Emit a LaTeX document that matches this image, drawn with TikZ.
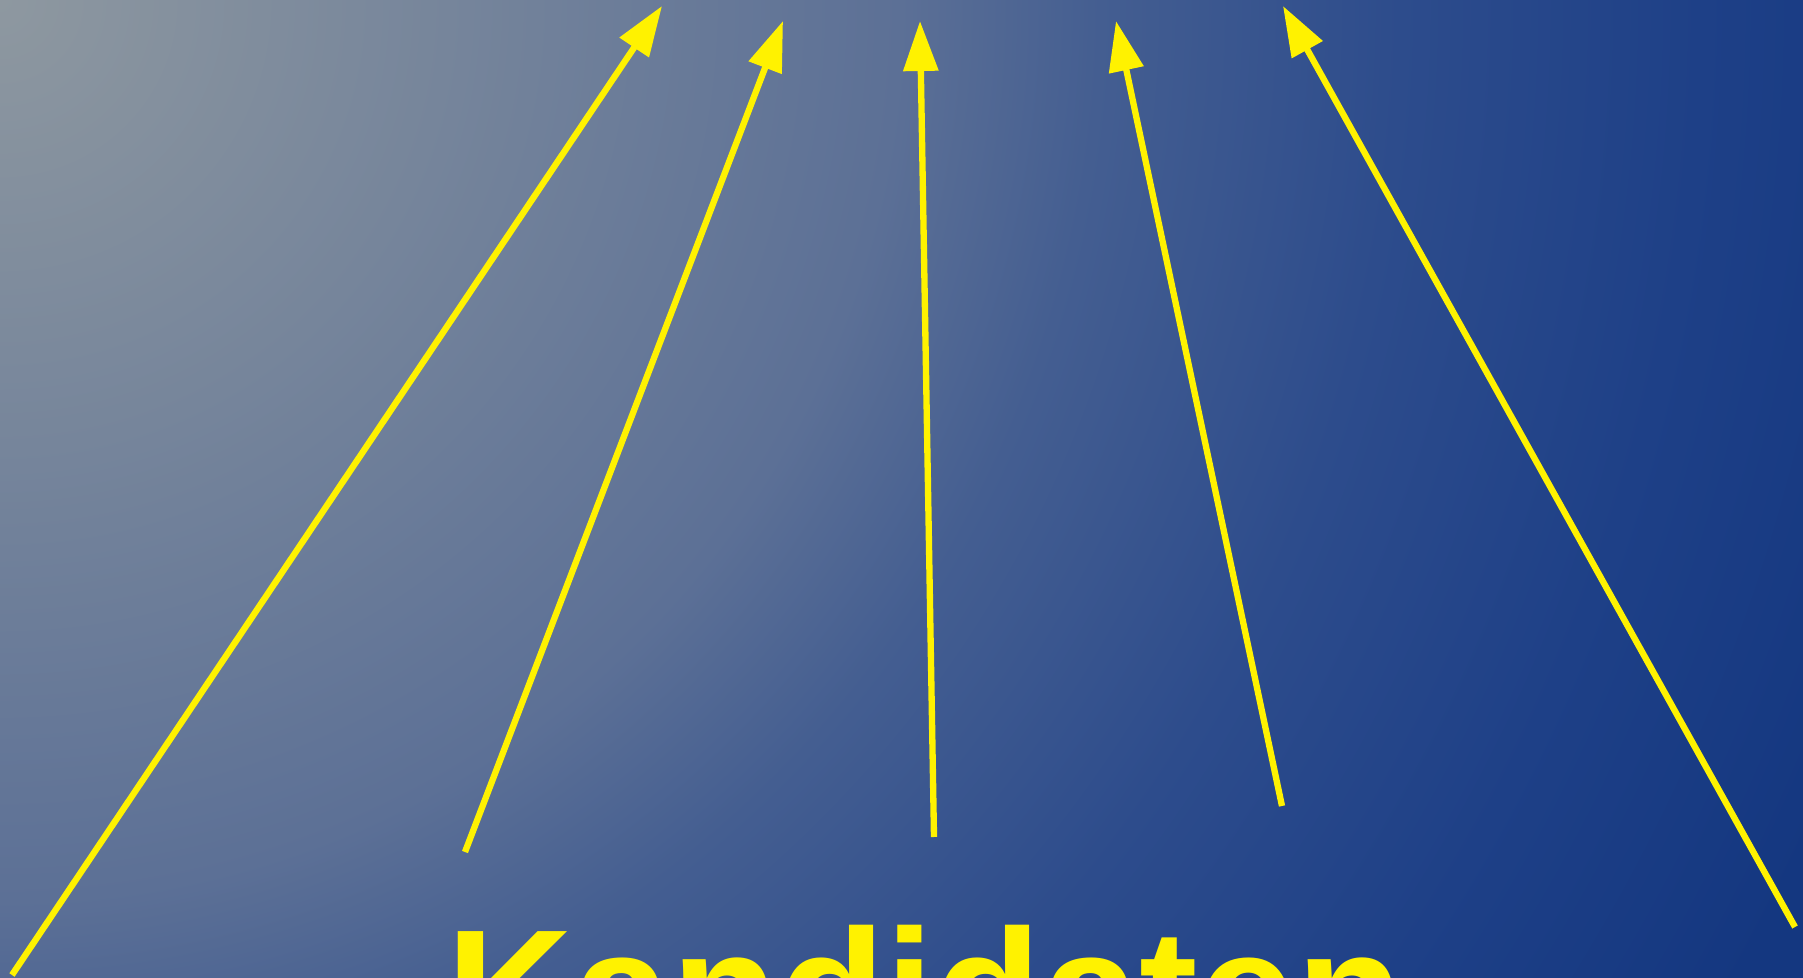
\documentclass[tikz,border=0pt]{standalone}
\usepackage{fontspec}
\setmainfont{Liberation Sans}
\usepackage{tikz}
\usetikzlibrary{arrows.meta}

\definecolor{bgA}{RGB}{142,152,160}
\definecolor{bgB}{RGB}{118,133,155}
\definecolor{bgC}{RGB}{92,112,150}
\definecolor{bgD}{RGB}{68,94,145}
\definecolor{bgE}{RGB}{45,76,140}
\definecolor{bgF}{RGB}{30,64,135}
\definecolor{bgG}{RGB}{20,55,128}
\pgfdeclareradialshading{slidebg}{\pgfpoint{0bp}{0bp}}{%
  color(0bp)=(bgA); color(5.6bp)=(bgB); color(11.25bp)=(bgC);
  color(13.75bp)=(bgD); color(17.5bp)=(bgE); color(21.25bp)=(bgF);
  color(25bp)=(bgG); color(50bp)=(bgG)}

\begin{document}
\begin{tikzpicture}[
    pointer/.style={yellow, line width=1.8pt,
      -{Triangle[length=0.50cm,width=0.34cm]}},
    title/.style={yellow, inner sep=0pt, anchor=base,
      font=\fontsize{50}{56}\selectfont\bfseries}]
  \useasboundingbox (0,0) rectangle (18.03,9.78);
  % background
  \begin{scope}
    \clip (0,0) rectangle (18.03,9.78);
    \pgftransformshift{\pgfpoint{0cm}{9.78cm}}
    \pgftransformscale{22.68}
    \pgflowlevelsynccm
    \pgfuseshading{slidebg}
  \end{scope}
  % tails and tips
  \coordinate (t1) at (0.12,0.03);   \coordinate (h1) at (6.62,9.72);
  \coordinate (t2) at (4.65,1.26);   \coordinate (h2) at (7.83,9.57);
  \coordinate (t3) at (9.34,1.41);   \coordinate (h3) at (9.20,9.57);
  \coordinate (t4) at (12.82,1.72);  \coordinate (h4) at (11.16,9.57);
  \coordinate (t5) at (17.95,0.51);  \coordinate (h5) at (12.83,9.72);
  % arrows
  \foreach \i in {1,...,5}
    \draw[pointer] (t\i) -- (h\i);
  % label
  \node[title] (cand) at (9.25,-0.74) {Kandidaten};
\end{tikzpicture}
\end{document}
